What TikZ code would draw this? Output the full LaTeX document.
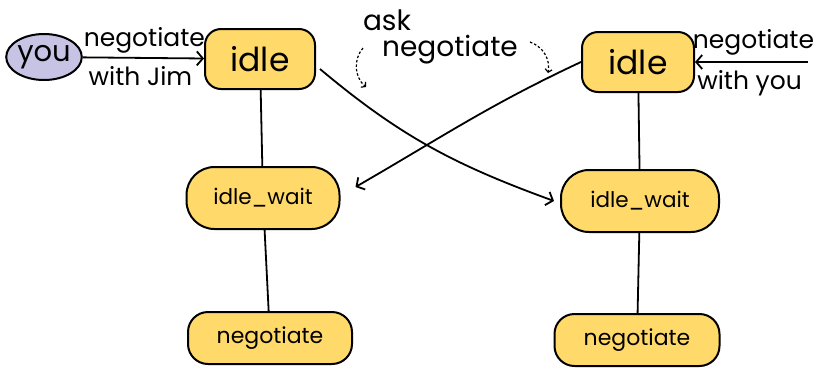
\documentclass[tikz,border=0pt]{standalone}
\usepackage{fontspec}
\setmainfont{Poppins}
\usetikzlibrary{arrows.meta, shapes.geometric}

\definecolor{stateyel}{RGB}{255,217,105}
\definecolor{youlav}{RGB}{199,195,228}

\begin{document}
\begin{tikzpicture}[x=1pt, y=-1pt,
  state/.style={draw, line width=2pt, fill=stateyel, rounded corners=16pt, inner sep=0pt},
  actor/.style={draw, line width=2pt, fill=youlav, ellipse, inner sep=0pt,
                minimum width=70pt, minimum height=46pt, font=\fontsize{29}{31}\selectfont},
  lbl/.style={font=\fontsize{25}{27}\selectfont, inner sep=1pt},
  arr/.style={-{Straight Barb[length=6pt, width=14pt]}, line width=1.8pt},
  link/.style={line width=1.8pt},
  dasharr/.style={-{Straight Barb[length=3pt, width=7pt]}, line width=1.2pt, dash pattern=on 2.5pt off 2pt}]

\useasboundingbox (0,0) rectangle (819,368);

% ---------- left side (you) ----------
\node[actor]                             (you)   at (44,57)   {you};
\node[state, minimum width=110pt, minimum height=60pt,
      font=\fontsize{33}{35}\selectfont] (idleL) at (260,59)  {idle};
\node[state, minimum width=153pt, minimum height=62pt, rounded corners=28pt,
      font=\fontsize{21.5}{24}\selectfont] (waitL) at (263,198) {idle\_wait};
\node[state, minimum width=164pt, minimum height=52pt, rounded corners=20pt,
      font=\fontsize{22}{24}\selectfont] (negL)  at (270,338) {negotiate};

% ---------- right side (Jim) ----------
\node[state, minimum width=112pt, minimum height=60pt,
      font=\fontsize{33}{35}\selectfont] (idleR) at (638,62)  {idle};
\node[state, minimum width=158pt, minimum height=62pt, rounded corners=28pt,
      font=\fontsize{21.5}{24}\selectfont] (waitR) at (640,201) {idle\_wait};
\node[state, minimum width=165pt, minimum height=52pt, rounded corners=20pt,
      font=\fontsize{22}{24}\selectfont] (negR)  at (637,340) {negotiate};
\coordinate (inR) at (808,62);

% ---------- message ----------
\node[lbl, font=\fontsize{28}{30}\selectfont] (ask) at (387,20) {ask};
\node[lbl, font=\fontsize{28}{30}\selectfont] (msg) at (450,50) {negotiate};
\coordinate (dL1) at (363,48);
\coordinate (dL2) at (366,87);
\coordinate (dR1) at (530,42);
\coordinate (dR2) at (548,73);

% ---------- connectors ----------
\draw[arr] (you) -- (idleL)
  node[lbl, midway, above=3pt, xshift=1pt] {negotiate}
  node[lbl, midway, below=7pt, xshift=-3pt] {with Jim};
\draw[arr] (inR) -- (idleR)
  node[lbl, midway, above=5pt, xshift=2pt] {negotiate}
  node[lbl, midway, below=7pt, xshift=-2pt] {with you};

\foreach \a/\b in {idleL/waitL, waitL/negL, idleR/waitR, waitR/negR} {
  \draw[link] (\a) -- (\b);
}

\draw[arr] (idleL.east) ++(4,10) to[out=-40, in=160] ([xshift=-6pt]waitR.west);
\draw[arr] (idleR.west) to[out=205, in=30] ([xshift=15pt, yshift=11pt]waitL.east);

\draw[dasharr] (dL1) to[bend right=45] (dL2);
\draw[dasharr] (dR1) to[bend left=40] (dR2);
\end{tikzpicture}
\end{document}
